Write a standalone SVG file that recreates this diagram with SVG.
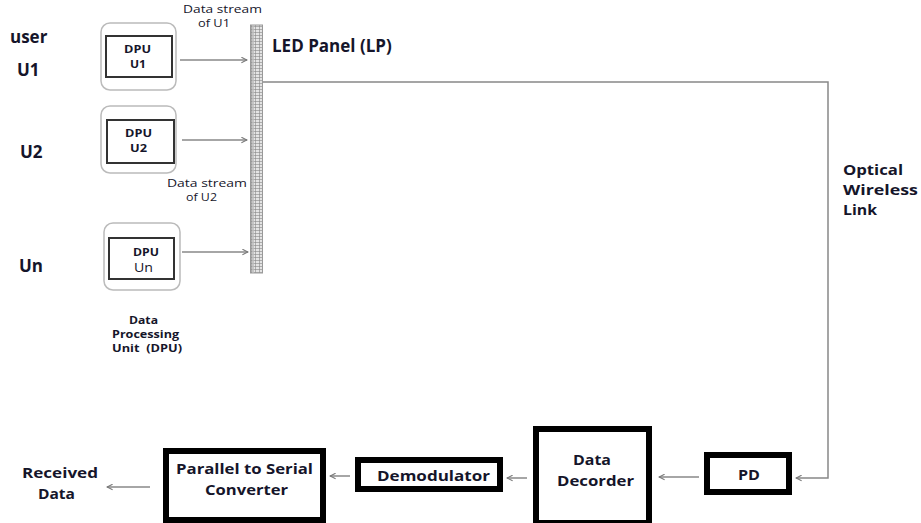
<svg xmlns="http://www.w3.org/2000/svg" width="921" height="523" viewBox="0 0 921 523">
<defs>
<style>
text{font-family:"Open Sans","Noto Sans","Liberation Sans",sans-serif;fill:#15152a}
.lab{font-size:17px;font-weight:bold}
.lab2{font-size:14.5px;font-weight:bold}
.sm{font-size:10px}
.cap{font-size:10px;font-weight:bold}
.dpu{font-size:11px;font-weight:bold}
.blk{font-size:15px;font-weight:bold}
.outer{fill:#fff;stroke:#bbb;stroke-width:1.5}
.inner{fill:#fff;stroke:#333;stroke-width:2}
.thick{fill:#fff;stroke:#000;stroke-width:6}
.con{fill:none;stroke:#888;stroke-width:1.5}
</style>
<marker id="ar" viewBox="0 0 10 10" refX="9" refY="5" markerWidth="7" markerHeight="7" orient="auto" markerUnits="userSpaceOnUse">
<path d="M1,1 L9,5 L1,9" fill="none" stroke="#777" stroke-width="1.5"/>
</marker>
<pattern id="grid" width="4" height="3" patternUnits="userSpaceOnUse">
<rect width="4" height="3" fill="#e4e4e4"/>
<path d="M0,2.5 H4 M3.5,0 V3" stroke="#888" stroke-width="0.6"/>
</pattern>
</defs>

<g id="labels-users">
<text x="10" y="43" class="lab">user</text>
<text x="17" y="76" class="lab">U1</text>
<text x="20" y="158" class="lab">U2</text>
<text x="19" y="272" class="lab">Un</text>
</g>

<g id="dpu1">
<rect x="101" y="23" width="75" height="67" rx="9" class="outer"/>
<rect x="106" y="36" width="66" height="41" class="inner"/>
<text x="124" y="53" class="dpu" textLength="27" lengthAdjust="spacingAndGlyphs">DPU</text>
<text x="130" y="68" class="dpu" textLength="16" lengthAdjust="spacingAndGlyphs">U1</text>
</g>
<g id="dpu2">
<rect x="101" y="106" width="75" height="67" rx="9" class="outer"/>
<rect x="107" y="120" width="67" height="43" class="inner"/>
<text x="125" y="137" class="dpu" textLength="27" lengthAdjust="spacingAndGlyphs">DPU</text>
<text x="130" y="152" class="dpu" textLength="17" lengthAdjust="spacingAndGlyphs">U2</text>
</g>
<g id="dpun">
<rect x="104" y="223" width="76" height="67" rx="9" class="outer"/>
<rect x="109" y="238" width="65" height="41" class="inner"/>
<text x="133" y="256" class="dpu" textLength="26" lengthAdjust="spacingAndGlyphs">DPU</text>
<text x="134" y="272" font-size="12" textLength="19" lengthAdjust="spacingAndGlyphs">Un</text>
</g>

<g id="dpu-caption">
<text x="129" y="324" class="cap" textLength="29" lengthAdjust="spacingAndGlyphs">Data</text>
<text x="112" y="338" class="cap" textLength="67" lengthAdjust="spacingAndGlyphs">Processing</text>
<text x="112" y="352" class="cap" textLength="70" lengthAdjust="spacingAndGlyphs" xml:space="preserve" style="white-space:pre">Unit  (DPU)</text>
</g>

<g id="stream-labels">
<text x="183" y="13" class="sm" textLength="79" lengthAdjust="spacingAndGlyphs">Data stream</text>
<text x="198" y="27" class="sm" textLength="32" lengthAdjust="spacingAndGlyphs">of U1</text>
<text x="167" y="187" class="sm" textLength="80" lengthAdjust="spacingAndGlyphs">Data stream</text>
<text x="186" y="201" class="sm" textLength="31" lengthAdjust="spacingAndGlyphs">of U2</text>
</g>

<g id="led-panel">
<rect x="250.5" y="25" width="12" height="248" fill="url(#grid)" stroke="#999" stroke-width="1"/>
<line x1="253" y1="25" x2="253" y2="273" stroke="#bbb" stroke-width="1.5"/>
<text x="272" y="52" class="lab">LED Panel (LP)</text>
</g>

<g id="optical-label">
<text x="843" y="175" class="lab2" textLength="60" lengthAdjust="spacingAndGlyphs">Optical</text>
<text x="843" y="195" class="lab2" textLength="75" lengthAdjust="spacingAndGlyphs">Wireless</text>
<text x="843" y="215" class="lab2" textLength="34" lengthAdjust="spacingAndGlyphs">Link</text>
</g>

<g id="received">
<text x="22" y="478" class="blk" textLength="76" lengthAdjust="spacingAndGlyphs">Received</text>
<text x="38" y="499" class="blk" textLength="37" lengthAdjust="spacingAndGlyphs">Data</text>
</g>

<g id="p2s">
<rect x="166" y="451" width="157" height="69" class="thick"/>
<text x="176" y="474" class="blk" textLength="137" lengthAdjust="spacingAndGlyphs">Parallel to Serial</text>
<text x="205" y="495" class="blk" textLength="83" lengthAdjust="spacingAndGlyphs">Converter</text>
</g>
<g id="demod">
<rect x="358" y="460" width="142" height="29" class="thick"/>
<text x="377" y="481" class="blk" font-size="16" textLength="113" lengthAdjust="spacingAndGlyphs">Demodulator</text>
</g>
<g id="decoder">
<rect x="536" y="429" width="113" height="94" class="thick"/>
<text x="573" y="465" class="blk" textLength="38" lengthAdjust="spacingAndGlyphs">Data</text>
<text x="557" y="486" class="blk" textLength="77" lengthAdjust="spacingAndGlyphs">Decorder</text>
</g>
<g id="pd">
<rect x="707" y="455" width="82" height="37" class="thick"/>
<text x="738" y="480" class="blk" font-size="16" textLength="22" lengthAdjust="spacingAndGlyphs">PD</text>
</g>

<g id="connectors">
<line x1="180" y1="60" x2="247" y2="60" class="con" marker-end="url(#ar)"/>
<line x1="182" y1="140" x2="247" y2="140" class="con" marker-end="url(#ar)"/>
<line x1="182" y1="252" x2="248" y2="252" class="con" marker-end="url(#ar)"/>
<polyline points="263,82 828,82 828,478 796,478" class="con" stroke="#aaa" marker-end="url(#ar)"/>
<line x1="699" y1="477" x2="659" y2="477" class="con" marker-end="url(#ar)"/>
<line x1="527" y1="478" x2="507" y2="478" class="con" marker-end="url(#ar)"/>
<line x1="350" y1="476" x2="330" y2="476" class="con" marker-end="url(#ar)"/>
<line x1="150" y1="487" x2="107" y2="487" class="con" marker-end="url(#ar)"/>
</g>
</svg>
